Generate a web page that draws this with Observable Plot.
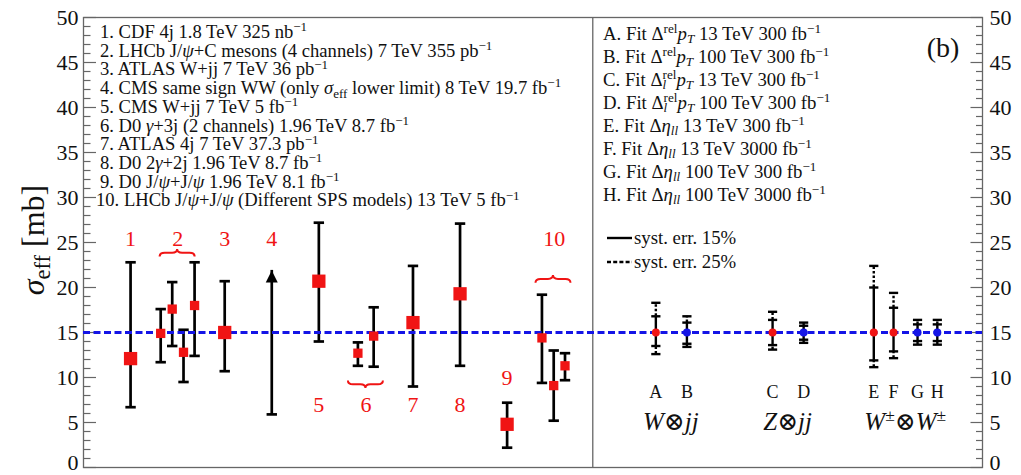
<!DOCTYPE html>
<html>
<head>
<meta charset="utf-8">
<script src="https://cdn.jsdelivr.net/npm/d3@7"></script>
<script src="https://cdn.jsdelivr.net/npm/@observablehq/plot@0.6"></script>
<style>
  html, body { margin: 0; padding: 0; background: #fff; }
  #chart svg { display: block; }
</style>
</head>
<body>
<div id="chart"></div>
<script>
// ---- Measurements of sigma_eff (mb): experiment slot, central value, error-bar ends ----
const expGroup   = ["1", "2", "2", "2", "2", "3", "5", "6", "6", "7", "8", "9", "10", "10", "10"];
const expSlot    = [1.0, 1.64, 1.885, 2.125, 2.36, 3.0, 5.0, 5.83, 6.165, 7.0, 8.0, 9.0, 9.74, 9.99, 10.23];
const expValue   = [12.1, 14.9, 17.6, 12.8, 18.0, 15.0, 20.7, 12.7, 14.6, 16.1, 19.3, 4.8, 14.4, 9.1, 11.3];
const expLow     = [6.7, 11.7, 13.5, 9.5, 12.4, 10.7, 14.0, 11.3, 11.2, 9.0, 11.3, 2.2, 9.4, 5.2, 9.7];
const expHigh    = [22.8, 17.6, 20.6, 15.3, 22.8, 20.7, 27.2, 13.9, 17.8, 22.4, 27.1, 7.2, 19.2, 13.0, 12.7];
const expChannel = [false, true, true, true, true, false, false, true, true, false, false, false, true, true, true];

// CMS same-sign WW: lower limit only
const limitSlot = 4.0;
const limitValue = 5.9;
const limitArrowTo = 21.9;

// Experiment numbers and where they sit
const groupText   = ["1", "2", "3", "4", "5", "6", "7", "8", "9", "10"];
const groupSlot   = [1.0, 2.0, 3.0, 4.0, 5.0, 6.0, 7.0, 8.0, 9.0, 10.0];
const groupLabelY = [25.4, 25.4, 25.4, 25.4, 7.0, 7.0, 7.0, 7.0, 10.0, 25.4];

// Braces joining the channels of one experiment
const braceSlot = [2.0, 6.0, 9.985];
const braceY    = [23.8, 9.2, 20.9];
const braceTip  = ["up", "down", "up"];

// ---- Projected fits (input sigma_eff = 15 mb) with 15% and 25% systematic error ----
const fitText   = ["A", "B", "C", "D", "E", "F", "G", "H"];
const fitSlot   = [12.16, 12.82, 14.64, 15.30, 16.79, 17.21, 17.72, 18.14];
const fitEnergy = [13, 100, 13, 100, 13, 13, 100, 100];
const fitValue  = [15, 15, 15, 15, 15, 15, 15, 15];
const fitLow15  = [13.5, 13.75, 13.6, 14.2, 11.9, 12.9, 14.05, 14.05];
const fitHigh15 = [16.8, 16.1, 16.4, 15.75, 20.0, 17.75, 15.9, 15.9];
const fitLow25  = [12.6, 13.4, 13.1, 13.85, 11.15, 12.15, 13.65, 13.65];
const fitHigh25 = [18.3, 16.8, 17.3, 16.1, 22.4, 19.4, 16.4, 16.4];
const fitLabelY = 8.4;

const processText  = ["*W*⊗*jj*", "*Z*⊗*jj*", "*W*^{±}⊗*W*^{±}"];
const processSlot  = [12.49, 14.97, 17.47];
const processBaseY = 4.1;

const sigmaRef = 15;
const panelDivider = 10.82;

// ---- Legend texts (*italic*, ^{sup}, _{sub}) ----
const expLegend = [
  "1. CDF 4j 1.8 TeV 325 nb^{−1}",
  "2. LHCb J/*ψ*+C mesons (4 channels) 7 TeV 355 pb^{−1}",
  "3. ATLAS W+jj 7 TeV 36 pb^{−1}",
  "4. CMS same sign WW (only *σ*_{eff} lower limit) 8 TeV 19.7 fb^{−1}",
  "5. CMS W+jj 7 TeV 5 fb^{−1}",
  "6. D0 *γ*+3j (2 channels) 1.96 TeV 8.7 fb^{−1}",
  "7. ATLAS 4j 7 TeV 37.3 pb^{−1}",
  "8. D0 2*γ*+2j 1.96 TeV 8.7 fb^{−1}",
  "9. D0 J/*ψ*+J/*ψ* 1.96 TeV 8.1 fb^{−1}",
  "10. LHCb J/*ψ*+J/*ψ* (Different SPS models) 13 TeV 5 fb^{−1}"
];
const fitLegend = [
  "A. Fit Δ^{rel}*p*_{*T*} 13 TeV 300 fb^{−1}",
  "B. Fit Δ^{rel}*p*_{*T*} 100 TeV 300 fb^{−1}",
  "C. Fit Δ_{*l*}^{rel}*p*_{*T*} 13 TeV 300 fb^{−1}",
  "D. Fit Δ_{*l*}^{rel}*p*_{*T*} 100 TeV 300 fb^{−1}",
  "E. Fit Δ*η*_{*ll*} 13 TeV 300 fb^{−1}",
  "F. Fit Δ*η*_{*ll*} 13 TeV 3000 fb^{−1}",
  "G. Fit Δ*η*_{*ll*} 100 TeV 300 fb^{−1}",
  "H. Fit Δ*η*_{*ll*} 100 TeV 3000 fb^{−1}"
];
const systLegend = ["syst. err. 15%", "syst. err. 25%"];
const yTitle = "*σ*_{eff} [mb]";
const panelTag = "(b)";

const majorTicks = d3.range(0, 51, 5);
const minorTicks = d3.range(0, 51).filter(v => v % 5 !== 0);

// ---- styling ----
const SERIF = "'Liberation Serif', 'Times New Roman', 'DejaVu Serif', serif";
const RED = "#f01414";
const BLUE = "#1414e6";
const AXIS = "#666";
const INK = "#111";

// ---- tables for the marks ----
const measurements = expGroup.map((g, i) => ({
  group: g, slot: expSlot[i], value: expValue[i], low: expLow[i], high: expHigh[i], channel: expChannel[i]
}));
const groups = groupText.map((t, i) => ({text: t, slot: groupSlot[i], y: groupLabelY[i]}));
const fits = fitText.map((t, i) => ({
  text: t, slot: fitSlot[i], energy: fitEnergy[i], value: fitValue[i],
  low15: fitLow15[i], high15: fitHigh15[i], low25: fitLow25[i], high25: fitHigh25[i]
}));
const limit = [{slot: limitSlot, value: limitValue, top: limitArrowTo}];

// custom symbols: short horizontal strokes and a filled arrow head
const hLine = (a, b) => ({draw(ctx) { ctx.moveTo(a, 0); ctx.lineTo(b, 0); }});
const arrowHead = {draw(ctx) { ctx.moveTo(0, 0); ctx.lineTo(-6, 12); ctx.lineTo(6, 12); ctx.closePath(); }};
const capL = hLine(-5.2, 5.2);
const capR = hLine(-4.6, 4.6);
const capStyle = {stroke: "#000", strokeWidth: 2.7, fill: "none"};
const capStyleR = {stroke: "#000", strokeWidth: 2.4, fill: "none"};

// tick labels: the bottom one sits on the axis end instead of straddling it
const tickText = {text: d => String(d), fontSize: 22, fill: INK, fontFamily: SERIF};

const svg = Plot.plot({
  width: 1021,
  height: 475,
  marginLeft: 83,
  marginRight: 39,
  marginTop: 17,
  marginBottom: 8,
  x: {domain: [0, 19.1], axis: null},
  y: {domain: [0, 50], axis: null},
  color: {type: "ordinal", domain: [13, 100], range: [RED, BLUE]},
  style: {fontFamily: SERIF, background: "#fff", overflow: "visible"},
  marks: [
    // axis ticks, pointing inward on both sides
    Plot.dot(majorTicks, {y: d => d, frameAnchor: "left", symbol: hLine(0, 12.5), stroke: AXIS, strokeWidth: 1.2, fill: "none"}),
    Plot.dot(minorTicks, {y: d => d, frameAnchor: "left", symbol: hLine(0, 7), stroke: AXIS, strokeWidth: 1.2, fill: "none"}),
    Plot.dot(majorTicks, {y: d => d, frameAnchor: "right", symbol: hLine(-12, 0), stroke: AXIS, strokeWidth: 1.2, fill: "none"}),
    Plot.dot(minorTicks, {y: d => d, frameAnchor: "right", symbol: hLine(-6.5, 0), stroke: AXIS, strokeWidth: 1.2, fill: "none"}),
    Plot.text(majorTicks.filter(d => d > 0), {y: d => d, frameAnchor: "left", textAnchor: "end", dx: -5, ...tickText}),
    Plot.text(majorTicks.filter(d => d > 0), {y: d => d, frameAnchor: "right", textAnchor: "start", dx: 7, ...tickText}),
    Plot.text(majorTicks.filter(d => d === 0), {y: d => d, frameAnchor: "left", textAnchor: "end", lineAnchor: "bottom", dx: -5, dy: 2, ...tickText}),
    Plot.text(majorTicks.filter(d => d === 0), {y: d => d, frameAnchor: "right", textAnchor: "start", lineAnchor: "bottom", dx: 7, dy: 2, ...tickText}),
    Plot.frame({stroke: AXIS, strokeWidth: 1.3}),
    Plot.ruleX([panelDivider], {stroke: AXIS, strokeWidth: 1.3}),

    // measurements: error bars with caps
    Plot.ruleX(measurements, {x: "slot", y1: "low", y2: "high", stroke: "#000", strokeWidth: 2.7}),
    Plot.dot(measurements, {x: "slot", y: "low", symbol: capL, ...capStyle}),
    Plot.dot(measurements, {x: "slot", y: "high", symbol: capL, ...capStyle}),

    // lower limit drawn as an arrow
    Plot.ruleX(limit, {x: "slot", y1: "value", y2: "top", stroke: "#000", strokeWidth: 2.7}),
    Plot.dot(limit, {x: "slot", y: "value", symbol: capL, ...capStyle}),
    Plot.dot(limit, {x: "slot", y: "top", symbol: arrowHead, fill: "#000", stroke: "none"}),

    // projected fits: solid 15% band, dotted extension to 25%
    Plot.ruleX(fits, {x: "slot", y1: "low15", y2: "high15", stroke: "#000", strokeWidth: 2.4}),
    Plot.ruleX(fits, {x: "slot", y1: "high15", y2: "high25", stroke: "#000", strokeWidth: 2.4, strokeDasharray: "2.5,2"}),
    Plot.ruleX(fits, {x: "slot", y1: "low25", y2: "low15", stroke: "#000", strokeWidth: 2.4, strokeDasharray: "2.5,2"}),
    Plot.dot(fits, {x: "slot", y: "low15", symbol: capR, ...capStyleR}),
    Plot.dot(fits, {x: "slot", y: "high15", symbol: capR, ...capStyleR}),
    Plot.dot(fits, {x: "slot", y: "low25", symbol: capR, ...capStyleR}),
    Plot.dot(fits, {x: "slot", y: "high25", symbol: capR, ...capStyleR}),

    // reference sigma_eff
    Plot.ruleY([sigmaRef], {stroke: BLUE, strokeWidth: 3, strokeDasharray: "7,3.5"}),

    // central values
    Plot.dot(measurements, {filter: d => !d.channel, x: "slot", y: "value", symbol: "square", r: 7.5, fill: RED, stroke: "none"}),
    Plot.dot(measurements, {filter: d => d.channel, x: "slot", y: "value", symbol: "square", r: 5.25, fill: RED, stroke: "none"}),
    Plot.dot(fits, {x: "slot", y: "value", r: 4, fill: "energy", stroke: "none"}),

    // labels
    Plot.text(groups, {x: "slot", y: "y", text: "text", fill: RED, fontSize: 22, fontFamily: SERIF}),
    Plot.text(fits, {x: "slot", y: fitLabelY, text: "text", fill: INK, fontSize: 18, fontFamily: SERIF})
  ]
});
document.getElementById("chart").append(svg);

// ---- rich text (italics, super/subscripts) drawn into the same SVG ----
function richText(parent, str, {x, y, size, anchor = "start", fill = INK, rotate = 0}) {
  const t = parent.append("text")
    .attr("transform", `translate(${x},${y})` + (rotate ? ` rotate(${rotate})` : ""))
    .attr("text-anchor", anchor)
    .attr("font-family", SERIF)
    .attr("font-size", size)
    .attr("fill", fill);
  let italic = false, base = 0, prevSub = [];
  const parts = str.split(/(\^\{[^}]*\}|_\{[^}]*\})/).filter(p => p.length);
  for (const part of parts) {
    let level = 0, body = part;
    if (part.startsWith("^{")) { level = 1; body = part.slice(2, -1); }
    else if (part.startsWith("_{")) { level = -1; body = part.slice(2, -1); }
    const fs = level ? size * 0.7 : size;
    const target = level > 0 ? -0.36 * size : level < 0 ? 0.2 * size : 0;
    const back = level > 0 && prevSub.length ? -d3.sum(prevSub, n => n.getComputedTextLength()) : 0;
    const spans = [];
    body.split("*").forEach((piece, i) => {
      if (i > 0) italic = !italic;
      if (!piece) return;
      const s = t.append("tspan").text(piece).attr("font-size", fs);
      if (italic) s.attr("font-style", "italic");
      if (!spans.length) {
        s.attr("dy", target - base);
        if (back) s.attr("dx", back);
        base = target;
      }
      spans.push(s.node());
    });
    prevSub = level < 0 ? spans : [];
  }
  return t;
}

const root = d3.select(svg);
const sx = svg.scale("x").apply;
const sy = svg.scale("y").apply;
const ann = root.append("g");

// braces
braceSlot.forEach((s, i) => {
  const cx = sx(s), cy = sy(braceY[i]), half = 17.5, r = 5, h = 3.8;
  const dir = braceTip[i] === "up" ? -1 : 1;
  const y0 = cy - dir * h, yt = cy + dir * h;
  const x1 = cx - half, x2 = cx + half;
  ann.append("path")
    .attr("d", `M${x1},${y0} Q${x1},${cy} ${x1 + r},${cy} L${cx - r},${cy} Q${cx},${cy} ${cx},${yt} Q${cx},${cy} ${cx + r},${cy} L${x2 - r},${cy} Q${x2},${cy} ${x2},${y0}`)
    .attr("fill", "none").attr("stroke", RED).attr("stroke-width", 2);
});

// process labels under the fits
processText.forEach((t, i) => richText(ann, t, {x: sx(processSlot[i]), y: sy(processBaseY), size: 25, anchor: "middle"}));

// y-axis title
richText(ann, yTitle, {x: 44, y: 240, size: 32, anchor: "middle", rotate: -90});

// experiment legend
expLegend.forEach((t, i) => {
  const digits = t.indexOf(".");
  richText(ann, t, {x: 100 - (digits - 1) * 4, y: 38 + i * 18.7, size: 18.6});
});

// fit legend
fitLegend.forEach((t, i) => richText(ann, t, {x: 603, y: 39.5 + i * 23.0, size: 18.8}));
systLegend.forEach((t, i) => {
  const yc = 238 + i * 24;
  ann.append("line").attr("x1", 607).attr("x2", 632).attr("y1", yc).attr("y2", yc)
    .attr("stroke", "#000").attr("stroke-width", 2.4)
    .attr("stroke-dasharray", i ? "4,2.2" : null);
  richText(ann, t, {x: 634, y: yc + 6, size: 18.8});
});
richText(ann, panelTag, {x: 943, y: 57, size: 28, anchor: "middle"});
</script>
</body>
</html>
